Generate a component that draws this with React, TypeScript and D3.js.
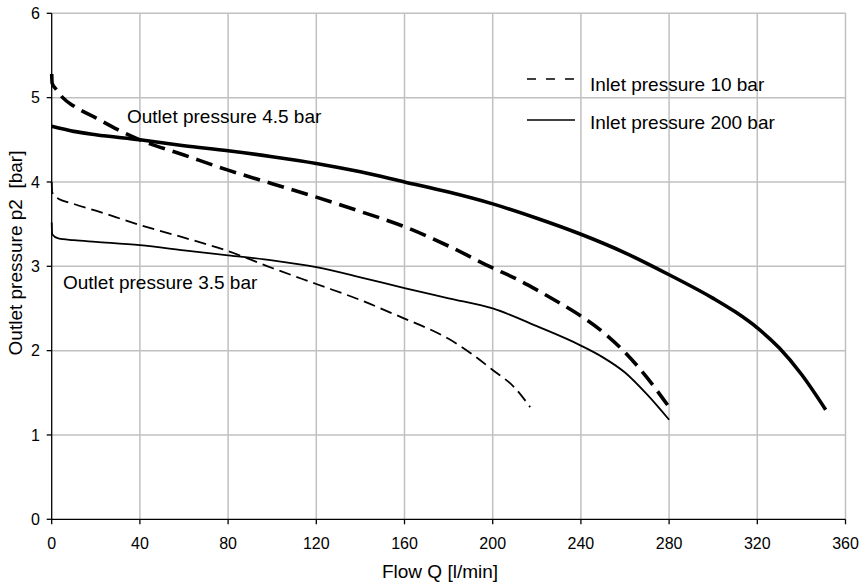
import React from "react";
import * as d3 from "d3";

const xTicks = [0, 40, 80, 120, 160, 200, 240, 280, 320, 360];
const yTicks = [0, 1, 2, 3, 4, 5, 6];

// Inlet 10 bar, outlet set 4.5 bar (thick dashed)
const dashed45: [number, number][] = [
  [0, 5.28], [0.2, 5.17], [2, 5.1], [5, 5.0], [10, 4.9], [20, 4.76], [30, 4.62], [40, 4.5],
  [60, 4.32], [80, 4.14], [100, 3.98], [120, 3.82], [140, 3.65], [160, 3.47], [180, 3.24],
  [200, 2.98], [210, 2.86], [220, 2.72], [230, 2.57], [240, 2.41], [250, 2.22], [260, 1.98],
  [270, 1.68], [280, 1.33],
];
// Inlet 200 bar, outlet set 4.5 bar (thick solid)
const solid45: [number, number][] = [
  [0, 4.66], [10, 4.6], [20, 4.56], [40, 4.5], [60, 4.43], [80, 4.37], [100, 4.3], [120, 4.22],
  [140, 4.12], [160, 4.0], [180, 3.88], [200, 3.74], [220, 3.57], [240, 3.38], [260, 3.16],
  [280, 2.9], [300, 2.62], [310, 2.46], [320, 2.27], [330, 2.03], [340, 1.72], [351, 1.3],
];
// Inlet 10 bar, outlet set 3.5 bar (thin dashed)
const dashed35: [number, number][] = [
  [0, 4.0], [0.2, 3.88], [2, 3.82], [10, 3.74], [20, 3.66], [40, 3.49], [60, 3.34], [80, 3.18],
  [100, 2.98], [120, 2.79], [140, 2.6], [160, 2.38], [170, 2.27], [180, 2.14], [190, 1.97],
  [200, 1.77], [210, 1.56], [217, 1.33],
];
// Inlet 200 bar, outlet set 3.5 bar (thin solid)
const solid35: [number, number][] = [
  [0, 3.52], [0.2, 3.38], [3, 3.33], [10, 3.31], [20, 3.29], [40, 3.25], [60, 3.19], [80, 3.13],
  [100, 3.07], [120, 2.99], [140, 2.87], [160, 2.74], [180, 2.62], [200, 2.5], [220, 2.29],
  [240, 2.06], [250, 1.92], [260, 1.74], [270, 1.48], [280, 1.18],
];

const legendLabels = ["Inlet pressure 10 bar", "Inlet pressure 200 bar"];
const annotations = ["Outlet pressure 4.5 bar", "Outlet pressure 3.5 bar"];

const W = 865;
const H = 584;
const FONT = "'Liberation Sans', Arial, sans-serif";

export default function App() {
  const x = d3.scaleLinear().domain([0, 360]).range([51.7, 845.5]);
  const y = d3.scaleLinear().domain([0, 6]).range([519.3, 13.3]);
  const line = d3
    .line<[number, number]>()
    .x((d) => x(d[0]))
    .y((d) => y(d[1]))
    .curve(d3.curveMonotoneX);

  const gridColor = "#c0c0c0";

  return (
    <svg
      width={W}
      height={H}
      style={{ position: "absolute", left: 0, top: 0, background: "#fff" }}
      fontFamily={FONT}
    >
      <rect x={0} y={0} width={W} height={H} fill="#fff" />
      {/* grid */}
      {xTicks.filter((t) => t > 0).map((t) => (
        <line key={"gx" + t} x1={x(t)} x2={x(t)} y1={y(0)} y2={y(6)} stroke={gridColor} strokeWidth={1.5} />
      ))}
      {yTicks.filter((t) => t > 0).map((t) => (
        <line key={"gy" + t} x1={x(0)} x2={x(360)} y1={y(t)} y2={y(t)} stroke={gridColor} strokeWidth={1.5} />
      ))}
      {/* axes */}
      <line x1={x(0)} x2={x(0)} y1={y(0)} y2={y(6)} stroke="#000" strokeWidth={1.3} />
      <line x1={x(0)} x2={x(360)} y1={y(0)} y2={y(0)} stroke="#000" strokeWidth={1.3} />
      {yTicks.map((t) => (
        <g key={"yt" + t}>
          <line x1={x(0) - 5} x2={x(0)} y1={y(t)} y2={y(t)} stroke="#000" strokeWidth={1.3} />
          <text x={40} y={y(t)} dy="0.36em" textAnchor="end" fontSize={16} fill="#000">
            {t}
          </text>
        </g>
      ))}
      {xTicks.map((t) => (
        <g key={"xt" + t}>
          <line x1={x(t)} x2={x(t)} y1={y(0)} y2={y(0) + 5} stroke="#000" strokeWidth={1.3} />
          <text x={x(t)} y={549} textAnchor="middle" fontSize={16} fill="#000">
            {t}
          </text>
        </g>
      ))}
      {/* curves */}
      <path d={line(solid45) || ""} fill="none" stroke="#000" strokeWidth={3.6} strokeLinejoin="round" />
      <path d={line(dashed45) || ""} fill="none" stroke="#000" strokeWidth={3.6} strokeDasharray="17 8" />
      <path d={line(solid35) || ""} fill="none" stroke="#000" strokeWidth={1.8} strokeLinejoin="round" />
      <path d={line(dashed35) || ""} fill="none" stroke="#000" strokeWidth={1.8} strokeDasharray="12 6" />
      {/* annotations */}
      <text x={127} y={123} fontSize={19} fill="#000">{annotations[0]}</text>
      <text x={63} y={289} fontSize={19} fill="#000">{annotations[1]}</text>
      {/* legend */}
      <line x1={527} x2={575} y1={79} y2={79} stroke="#000" strokeWidth={1.6} strokeDasharray="9 10" />
      <text x={590} y={91} fontSize={19} fill="#000">{legendLabels[0]}</text>
      <line x1={527} x2={575} y1={120} y2={120} stroke="#000" strokeWidth={1.6} />
      <text x={590} y={129} fontSize={19} fill="#000">{legendLabels[1]}</text>
      {/* axis titles */}
      <text x={440} y={578} textAnchor="middle" fontSize={19} fill="#000">
        Flow Q [l/min]
      </text>
      <text
        transform={`translate(22,253) rotate(-90)`}
        textAnchor="middle"
        fontSize={19}
        fill="#000"
        style={{ whiteSpace: "pre" }}
      >
        {"Outlet pressure p2  [bar]"}
      </text>
    </svg>
  );
}
